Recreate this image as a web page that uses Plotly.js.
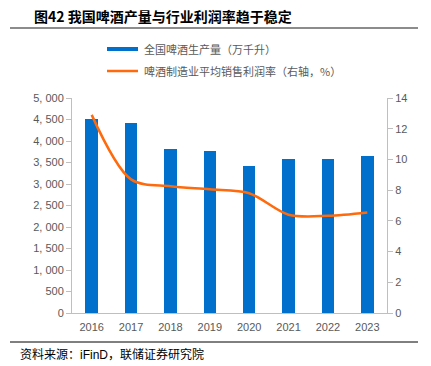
<!DOCTYPE html>
<html>
<head>
<meta charset="utf-8">
<script src="https://cdn.plot.ly/plotly-3.0.1.min.js"></script>
<style>html,body{margin:0;padding:0;background:#fff;}#chart{width:431px;height:366px;}</style>
</head>
<body>
<div id="chart"></div>
<script>
const years = ["2016","2017","2018","2019","2020","2021","2022","2023"];
const production = [4506, 4415, 3812, 3770, 3420, 3570, 3570, 3640];
const profitRate = [12.9, 8.7, 8.25, 8.05, 7.8, 6.4, 6.33, 6.55];
const leftTicks = [0,500,1000,1500,2000,2500,3000,3500,4000,4500,5000];
const leftTickText = ["0","500","1, 000","1, 500","2, 000","2, 500","3, 000","3, 500","4, 000","4, 500","5, 000"];
const rightTicks = [0,2,4,6,8,10,12,14];
const legendNames = ["全国啤酒生产量（万千升）","啤酒制造业平均销售利润率（右轴，%）"];

const L = 72, R = 387, T = 98, B = 313;
const px = v => (v - L) / (R - L);
const py = v => (B - v) / (B - T);

const cjk = '"Liberation Sans", Arial, "Noto Sans CJK SC", sans-serif';
const blue = '#0070CC', orange = '#FF6A0D', gray = '#595959', axisGray = '#BFBFBF';

const data = [
  {type:'bar', x: years, y: production, marker:{color: blue}, width: 0.32, yaxis:'y', showlegend:false, hoverinfo:'x+y'},
  {type:'scatter', mode:'lines', x: years, y: profitRate, yaxis:'y2', line:{color: orange, width: 2.5, shape:'spline', smoothing: 0.9}, showlegend:false}
];

const layout = {
  width: 431, height: 366,
  margin: {l: L, r: 431 - R, t: T, b: 366 - B, pad: 0},
  paper_bgcolor: '#fff', plot_bgcolor: '#fff',
  font: {family: cjk, size: 11, color: gray},
  showlegend: false,
  bargap: 0,
  xaxis: {type:'category', showline:true, linecolor: axisGray, linewidth:1, ticks:'', showgrid:false, zeroline:false,
          tickfont:{size:11, color: gray}, ticklabelstandoff: 4, fixedrange:true},
  yaxis: {range:[0,5000], tickvals: leftTicks, ticktext: leftTickText, showline:true, linecolor: axisGray, linewidth:1,
          ticks:'outside', ticklen:5, tickcolor: axisGray, showgrid:false, zeroline:false, tickfont:{size:11, color: gray}},
  yaxis2: {range:[0,14], tickvals: rightTicks, overlaying:'y', side:'right', showline:true, linecolor: axisGray, linewidth:1,
          ticks:'outside', ticklen:5, tickcolor: axisGray, showgrid:false, zeroline:false, tickfont:{size:11, color: gray}},
  shapes: [
    {type:'line', xref:'paper', yref:'paper', x0: px(10), x1: px(418), y0: py(28), y1: py(28), line:{color:'#8c8c8c', width:2}},
    {type:'line', xref:'paper', yref:'paper', x0: px(10), x1: px(418), y0: py(342), y1: py(342), line:{color:'#000', width:1}},
    {type:'line', xref:'paper', yref:'paper', x0: px(107), x1: px(138), y0: py(49), y1: py(49), line:{color: blue, width:4}},
    {type:'line', xref:'paper', yref:'paper', x0: px(107), x1: px(138), y0: py(71), y1: py(71), line:{color: orange, width:2.5}}
  ],
  annotations: [
    {xref:'paper', yref:'paper', x: px(32), y: py(16), xanchor:'left', yanchor:'middle', showarrow:false,
     text:'<b>图42 我国啤酒产量与行业利润率趋于稳定</b>', font:{family:'"Noto Sans CJK SC", sans-serif', size:14, color:'#000'}},
    {xref:'paper', yref:'paper', x: px(142), y: py(49), xanchor:'left', yanchor:'middle', showarrow:false,
     text: legendNames[0], font:{family:'"Noto Sans CJK SC", sans-serif', size:11, color: gray}},
    {xref:'paper', yref:'paper', x: px(142), y: py(71), xanchor:'left', yanchor:'middle', showarrow:false,
     text: legendNames[1], font:{family:'"Noto Sans CJK SC", sans-serif', size:11, color: gray}},
    {xref:'paper', yref:'paper', x: px(18), y: py(353), xanchor:'left', yanchor:'middle', showarrow:false,
     text:'资料来源：<span style="font-family:Liberation Sans">iFinD</span>，联储证券研究院', font:{family:'"Noto Sans CJK SC", sans-serif', size:12, color:'#000'}}
  ]
};

Plotly.newPlot('chart', data, layout, {staticPlot:true, displayModeBar:false});
</script>
</body>
</html>
